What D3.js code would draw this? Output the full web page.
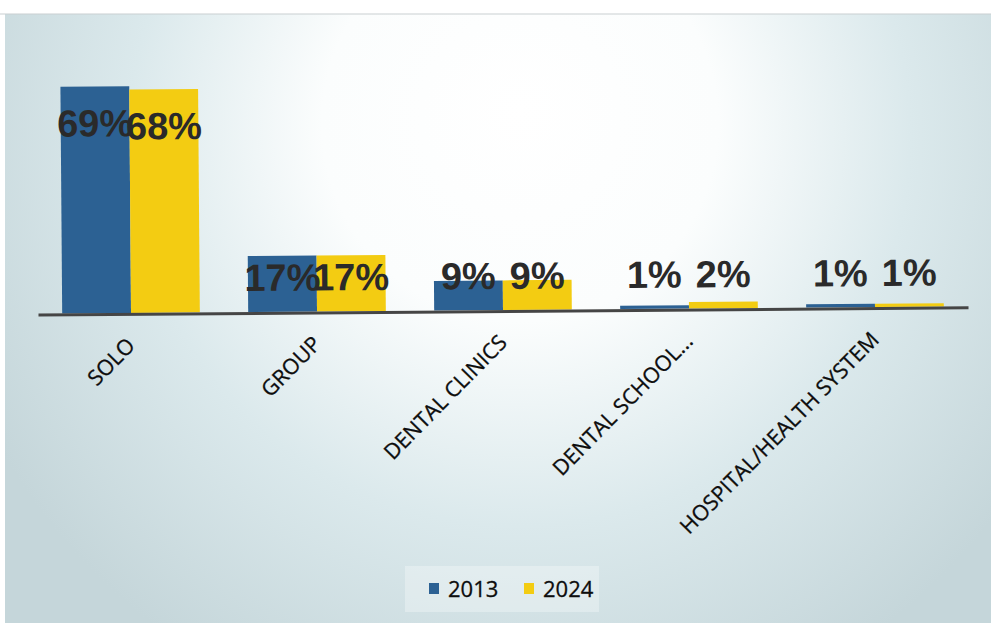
<!DOCTYPE html>
<html>
<head>
<meta charset="utf-8">
<script src="https://cdn.jsdelivr.net/npm/d3@7"></script>
<style>
  html, body { margin: 0; padding: 0; background: #ffffff; }
  svg { display: block; }
</style>
</head>
<body>
<svg id="chart" width="991" height="627"></svg>
<script>
const categories = ["SOLO", "GROUP", "DENTAL CLINICS", "DENTAL SCHOOL...", "HOSPITAL/HEALTH SYSTEM"];
const seriesNames = ["2013", "2024"];
const values2013 = [69, 17, 9, 1, 1];
const values2024 = [68, 17, 9, 2, 1];
const seriesColors = ["#2c6193", "#f3cc12"];

const W = 991, H = 627;
const svg = d3.select("#chart");

// background gradient (scanned slide look)
const defs = svg.append("defs");
const rg = defs.append("radialGradient").attr("id", "bg")
  .attr("gradientUnits", "userSpaceOnUse")
  .attr("cx", 520).attr("cy", 150).attr("r", 600)
  .attr("fx", 520).attr("fy", 110);
rg.append("stop").attr("offset", "0").attr("stop-color", "#ffffff");
rg.append("stop").attr("offset", "0.33").attr("stop-color", "#fbfdfd");
rg.append("stop").attr("offset", "0.65").attr("stop-color", "#dbe9ec");
rg.append("stop").attr("offset", "1").attr("stop-color", "#c5d6da");

svg.append("rect").attr("x", 5).attr("y", 14).attr("width", W - 5).attr("height", H - 18)
  .attr("fill", "url(#bg)");
svg.append("line").attr("x1", 0).attr("x2", W).attr("y1", 14).attr("y2", 14)
  .attr("stroke", "#c9cfd1").attr("stroke-width", 1);

const g = svg.append("g").attr("transform", "rotate(-0.45, 500, 310)");

const x0 = d3.scaleBand().domain(categories).range([38, 968])
  .paddingInner(0.26).paddingOuter(0.13);
const x1 = d3.scaleBand().domain(seriesNames).range([0, x0.bandwidth()]);
const y = d3.scaleLinear().domain([0, 70]).range([310, 80]);

const rows = categories.map((c, i) => ({ cat: c, vals: [values2013[i], values2024[i]] }));

const groups = g.selectAll("g.cat").data(rows).join("g")
  .attr("class", "cat")
  .attr("transform", d => `translate(${x0(d.cat)},0)`);

groups.selectAll("rect").data(d => d.vals.map((v, k) => ({ v, k }))).join("rect")
  .attr("x", d => x1(seriesNames[d.k]))
  .attr("width", x1.bandwidth())
  .attr("y", d => y(d.v))
  .attr("height", d => y(0) - y(d.v))
  .attr("fill", d => seriesColors[d.k]);

// axis line
const xAxis = d3.axisBottom(x0).tickSize(0).tickSizeOuter(0).tickFormat("");
const axG = g.append("g").attr("transform", `translate(0,${y(0) + 1})`).call(xAxis);
axG.select(".domain").attr("stroke", "#454545").attr("stroke-width", 3);

// value labels
groups.selectAll("text.val").data(d => d.vals.map((v, k) => ({ v, k }))).join("text")
  .attr("class", "val")
  .attr("x", d => x1(seriesNames[d.k]) + x1.bandwidth() / 2)
  .attr("y", d => Math.min(y(d.v) + 50, 289))
  .attr("text-anchor", "middle")
  .attr("font-family", "'Liberation Sans', Arial, sans-serif")
  .attr("font-weight", "bold")
  .attr("font-size", 38)
  .attr("fill", "#2a2a2a")
  .text(d => d.v + "%");

// category labels
g.selectAll("text.cat").data(categories).join("text")
  .attr("class", "cat")
  .attr("transform", c => `translate(${x0(c) + x0.bandwidth() / 2 + 5},344) rotate(-45)`)
  .attr("text-anchor", "end")
  .attr("font-family", "'Open Sans', sans-serif")
  .attr("font-size", 21.5)
  .attr("fill", "#0d0d0d")
  .attr("stroke", "#0d0d0d").attr("stroke-width", 0.3)
  .text(c => c);

// legend
const leg = svg.append("g");
leg.append("rect").attr("x", 405).attr("y", 566).attr("width", 194).attr("height", 46)
  .attr("fill", "#ffffff").attr("opacity", 0.3);
const legX = [429, 524];
seriesNames.forEach((s, k) => {
  leg.append("rect").attr("x", legX[k]).attr("y", 583).attr("width", 10).attr("height", 11)
    .attr("fill", seriesColors[k]);
  leg.append("text").attr("x", legX[k] + 19).attr("y", 597)
    .attr("font-family", "'Open Sans', sans-serif")
    .attr("font-size", 22)
    .attr("fill", "#0d0d0d")
    .attr("stroke", "#0d0d0d").attr("stroke-width", 0.3)
    .text(s);
});
</script>
</body>
</html>
